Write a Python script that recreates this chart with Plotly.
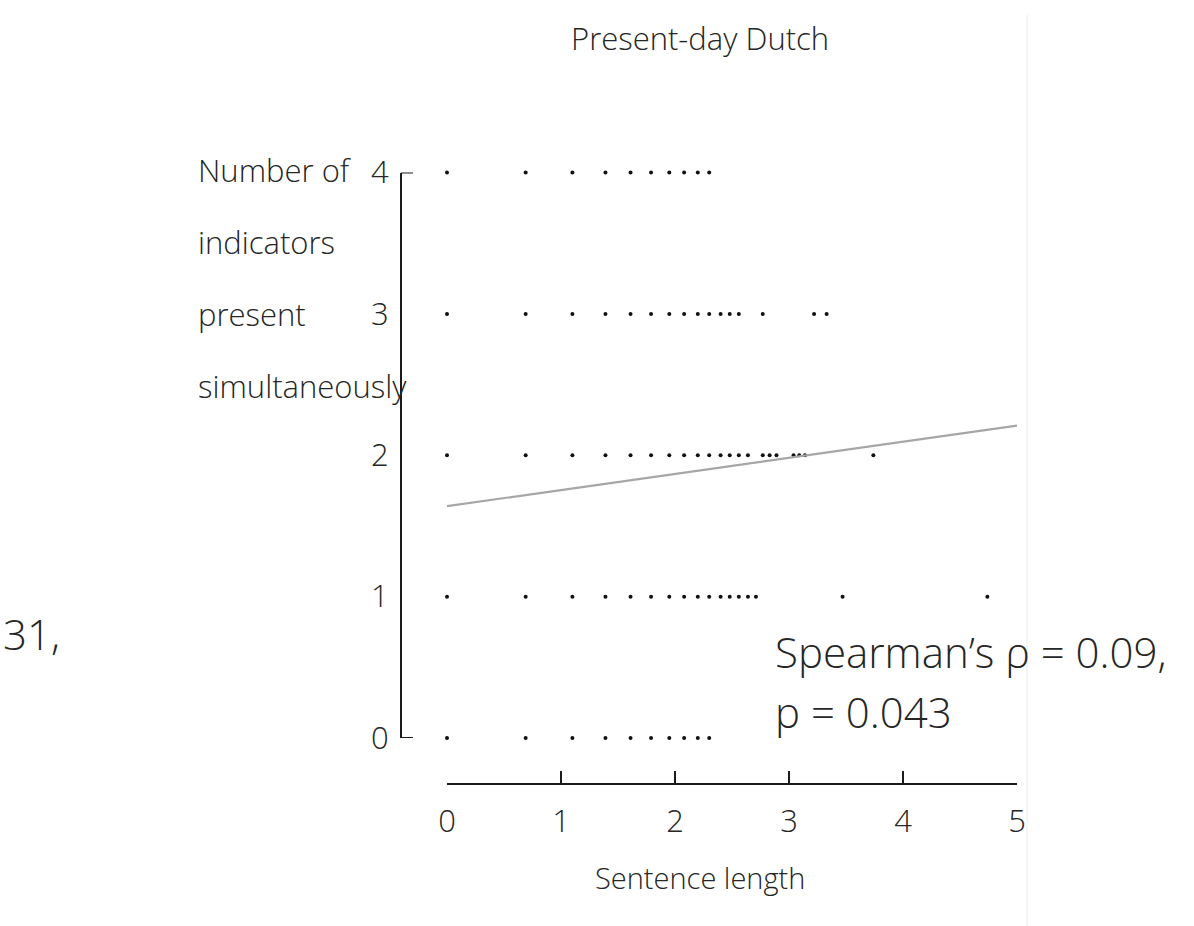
import plotly.graph_objects as go

# ---- data (x = log sentence length, y = number of indicators) ----
row4_x = [0, 0.69, 1.10, 1.39, 1.61, 1.79, 1.95, 2.08, 2.20, 2.30]
row3_x = [0, 0.69, 1.10, 1.39, 1.61, 1.79, 1.95, 2.08, 2.20, 2.30, 2.40, 2.48, 2.56, 2.77, 3.22, 3.33]
row2_x = [0, 0.69, 1.10, 1.39, 1.61, 1.79, 1.95, 2.08, 2.20, 2.30, 2.40, 2.48, 2.56, 2.64,
          2.77, 2.83, 2.89, 3.04, 3.09, 3.14, 3.74]
row1_x = [0, 0.69, 1.10, 1.39, 1.61, 1.79, 1.95, 2.08, 2.20, 2.30, 2.40, 2.48, 2.56, 2.64,
          2.71, 3.47, 4.74]
row0_x = [0, 0.69, 1.10, 1.39, 1.61, 1.79, 1.95, 2.08, 2.20, 2.30]
row_levels = [4, 3, 2, 1, 0]

fit_x = [0, 5]
fit_y = [1.64, 2.21]

x_ticks = [0, 1, 2, 3, 4, 5]
y_ticks = [0, 1, 2, 3, 4]
y_caps = [0, 4]

title_text = "Present-day Dutch"
ylabel_lines = ["Number of", "indicators", "present", "simultaneously"]
xlabel_text = "Sentence length"
stat_lines = ["Spearman’s ρ = 0.09,", "p = 0.043"]
left_fragment = "31,"

W, H = 1194, 926
FONT = "Open Sans"
TXT = "#262626"
WT = 300
AXC = "#1a1a1a"

xs, ys = [], []
for lvl, row in zip(row_levels, [row4_x, row3_x, row2_x, row1_x, row0_x]):
    xs += row
    ys += [lvl] * len(row)

fig = go.Figure()
fig.add_trace(go.Scatter(x=xs, y=ys, mode="markers",
                         marker=dict(size=4, color="#111111"),
                         cliponaxis=False, showlegend=False))
fig.add_trace(go.Scatter(x=fit_x, y=fit_y, mode="lines",
                         line=dict(color="#a6a6a6", width=2.2),
                         cliponaxis=False, showlegend=False))

def px_x(p):
    return p / W

def px_y(p):
    return 1 - p / H

x_dom = [px_x(447), px_x(1017)]
y_dom = [px_y(738), px_y(172.5)]
y_axis_pos = px_x(401)

fig.update_layout(
    width=W, height=H,
    margin=dict(l=0, r=0, t=0, b=0, pad=0, autoexpand=False),
    paper_bgcolor="white", plot_bgcolor="white",
    font=dict(family=FONT, color=TXT, weight=WT),
    xaxis=dict(domain=x_dom, range=[0, 5], anchor="free", position=px_y(784),
               automargin=False,
               showline=True, linecolor=AXC, linewidth=2,
               ticks="inside", ticklen=12, tickwidth=2, tickcolor=AXC,
               tickvals=x_ticks, ticktext=[str(v) for v in x_ticks],
               tickfont=dict(size=31, family=FONT, color=TXT, weight=WT),
               ticklabelstandoff=10,
               showgrid=False, zeroline=False),
    yaxis=dict(domain=y_dom, range=[0, 4], anchor="free", position=y_axis_pos,
               automargin=False,
               showline=True, linecolor=AXC, linewidth=2,
               ticks="", tickvals=y_ticks, ticktext=[str(v) for v in y_ticks],
               tickfont=dict(size=31, family=FONT, color=TXT, weight=WT),
               ticklabelstandoff=5,
               showgrid=False, zeroline=False),
    showlegend=False,
)

# end caps of the y axis (at the first and last tick values)
for c in y_caps:
    fig.add_shape(type="line", xref="paper", yref="y",
                  x0=y_axis_pos, x1=y_axis_pos + 12 / W, y0=c, y1=c,
                  line=dict(color=AXC, width=2))

ann = []
ann.append(dict(text=title_text, x=px_x(700), y=px_y(38), xref="paper", yref="paper",
                xanchor="center", yanchor="middle", showarrow=False,
                font=dict(size=31, family=FONT, color=TXT, weight=WT)))
for i, line in enumerate(ylabel_lines):
    ann.append(dict(text=line, x=px_x(196), y=px_y(170 + 72 * i), xref="paper", yref="paper",
                    xanchor="left", yanchor="middle", showarrow=False,
                    font=dict(size=31, family=FONT, color=TXT, weight=WT)))
ann.append(dict(text=xlabel_text, x=px_x(700), y=px_y(877), xref="paper", yref="paper",
                xanchor="center", yanchor="middle", showarrow=False,
                font=dict(size=29, family=FONT, color=TXT, weight=WT)))
for i, line in enumerate(stat_lines):
    ann.append(dict(text=line, x=px_x(773), y=px_y(651 + 60 * i), xref="paper", yref="paper",
                    xanchor="left", yanchor="middle", showarrow=False,
                    font=dict(size=42, family=FONT, color=TXT, weight=WT)))
ann.append(dict(text=left_fragment, x=px_x(1), y=px_y(633), xref="paper", yref="paper",
                xanchor="left", yanchor="middle", showarrow=False,
                font=dict(size=42, family=FONT, color=TXT, weight=WT)))
fig.update_layout(annotations=ann)

fig.add_shape(type="line", xref="paper", yref="paper",
              x0=px_x(1027), x1=px_x(1027), y0=0, y1=px_y(15),
              line=dict(color="#ececec", width=1))

fig.write_html("out.html")
